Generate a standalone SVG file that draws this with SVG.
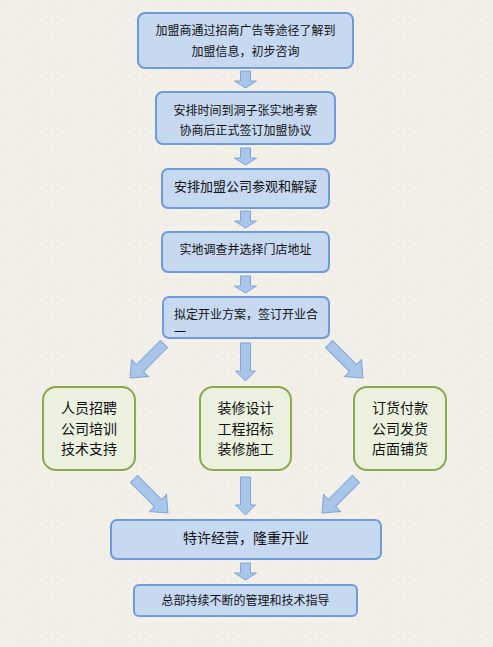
<svg xmlns="http://www.w3.org/2000/svg" width="493" height="647" viewBox="0 0 493 647">
<defs>
<style>
.blue{fill:#c6d9f1;stroke:#6f9bd8;stroke-width:2}
.green{fill:#ebf1de;stroke:#8aa84e;stroke-width:2}
.arr{fill:#a9c6ea;stroke:#7ea6d6;stroke-width:1}
text{font-family:"Noto Sans CJK SC","Noto Sans",sans-serif;fill:#111;text-anchor:middle}
.t12{font-size:12px}
.t13{font-size:13px}
.t14{font-size:14px}
</style>
<path id="a-short" d="M-5,0 H5 V10 H11 L0,17 L-11,10 H-5 Z"/>
<path id="a-long" d="M-5,0 H5 V28 H10 L0,38 L-10,28 H-5 Z"/>
<path id="a-diag" d="M-5,0 H5 V34 H12 L0,48 L-12,34 H-5 Z"/>
<pattern id="tex" width="11" height="7" patternUnits="userSpaceOnUse">
<rect width="11" height="7" fill="#f2eee8"/>
<rect x="1" y="2" width="3" height="1" fill="#f6f4ef"/>
<rect x="7" y="5" width="2" height="1" fill="#f6f4ef"/>
<rect x="5" y="0" width="1" height="2" fill="#eeeae3"/>
</pattern>
</defs>
<rect width="493" height="647" fill="url(#tex)"/>
<g id="connectors">
<use href="#a-short" class="arr" transform="translate(245.5,71)"/>
<use href="#a-short" class="arr" transform="translate(245.5,148)"/>
<use href="#a-short" class="arr" transform="translate(245.5,211)"/>
<use href="#a-short" class="arr" transform="translate(245.5,276)"/>
<use href="#a-diag" class="arr" transform="translate(164,344) rotate(45)"/>
<use href="#a-long" class="arr" transform="translate(245.5,343)"/>
<use href="#a-diag" class="arr" transform="translate(329,344) rotate(-45)"/>
<use href="#a-diag" class="arr" transform="translate(134,479) rotate(-45)"/>
<use href="#a-long" class="arr" transform="translate(245.5,477)"/>
<use href="#a-diag" class="arr" transform="translate(356,479) rotate(45)"/>
<use href="#a-short" class="arr" transform="translate(245.5,563)"/>
</g>
<g id="n1">
<rect class="blue" x="138" y="13" width="215" height="55" rx="7"/>
<text class="t12" x="245.5" y="35">加盟商通过招商广告等途径了解到</text>
<text class="t12" x="245.5" y="56">加盟信息，初步咨询</text>
</g>
<g id="n2">
<rect class="blue" x="156" y="92" width="179" height="52" rx="7"/>
<text class="t12" x="245.5" y="115">安排时间到洞子张实地考察</text>
<text class="t12" x="245.5" y="135">协商后正式签订加盟协议</text>
</g>
<g id="n3">
<rect class="blue" x="162" y="169" width="167" height="39" rx="6"/>
<text class="t13" x="245.5" y="191">安排加盟公司参观和解疑</text>
</g>
<g id="n4">
<rect class="blue" x="162" y="232" width="167" height="40" rx="6"/>
<text class="t12" x="245.5" y="254">实地调查并选择门店地址</text>
</g>
<g id="n5">
<rect class="blue" x="163" y="297" width="166" height="41" rx="6"/>
<text class="t12" x="174" y="319" style="text-anchor:start">拟定开业方案，签订开业合</text>
<text class="t12" x="174" y="337" style="text-anchor:start">一</text>
</g>
<g id="n6">
<rect class="green" x="43" y="387" width="92" height="83" rx="13"/>
<text class="t14" x="89" y="413">人员招聘</text>
<text class="t14" x="89" y="434">公司培训</text>
<text class="t14" x="89" y="454">技术支持</text>
</g>
<g id="n7">
<rect class="green" x="200" y="387" width="91" height="83" rx="13"/>
<text class="t14" x="245.5" y="413">装修设计</text>
<text class="t14" x="245.5" y="434">工程招标</text>
<text class="t14" x="245.5" y="454">装修施工</text>
</g>
<g id="n8">
<rect class="green" x="354" y="387" width="92" height="83" rx="13"/>
<text class="t14" x="400" y="413">订货付款</text>
<text class="t14" x="400" y="434">公司发货</text>
<text class="t14" x="400" y="454">店面铺货</text>
</g>
<g id="n9">
<rect class="blue" x="111" y="520" width="270" height="39" rx="6"/>
<text class="t14" x="246" y="543">特许经营，隆重开业</text>
</g>
<g id="n10">
<rect class="blue" x="134" y="585" width="223" height="31" rx="5"/>
<text class="t12" x="245.5" y="605">总部持续不断的管理和技术指导</text>
</g>
</svg>
